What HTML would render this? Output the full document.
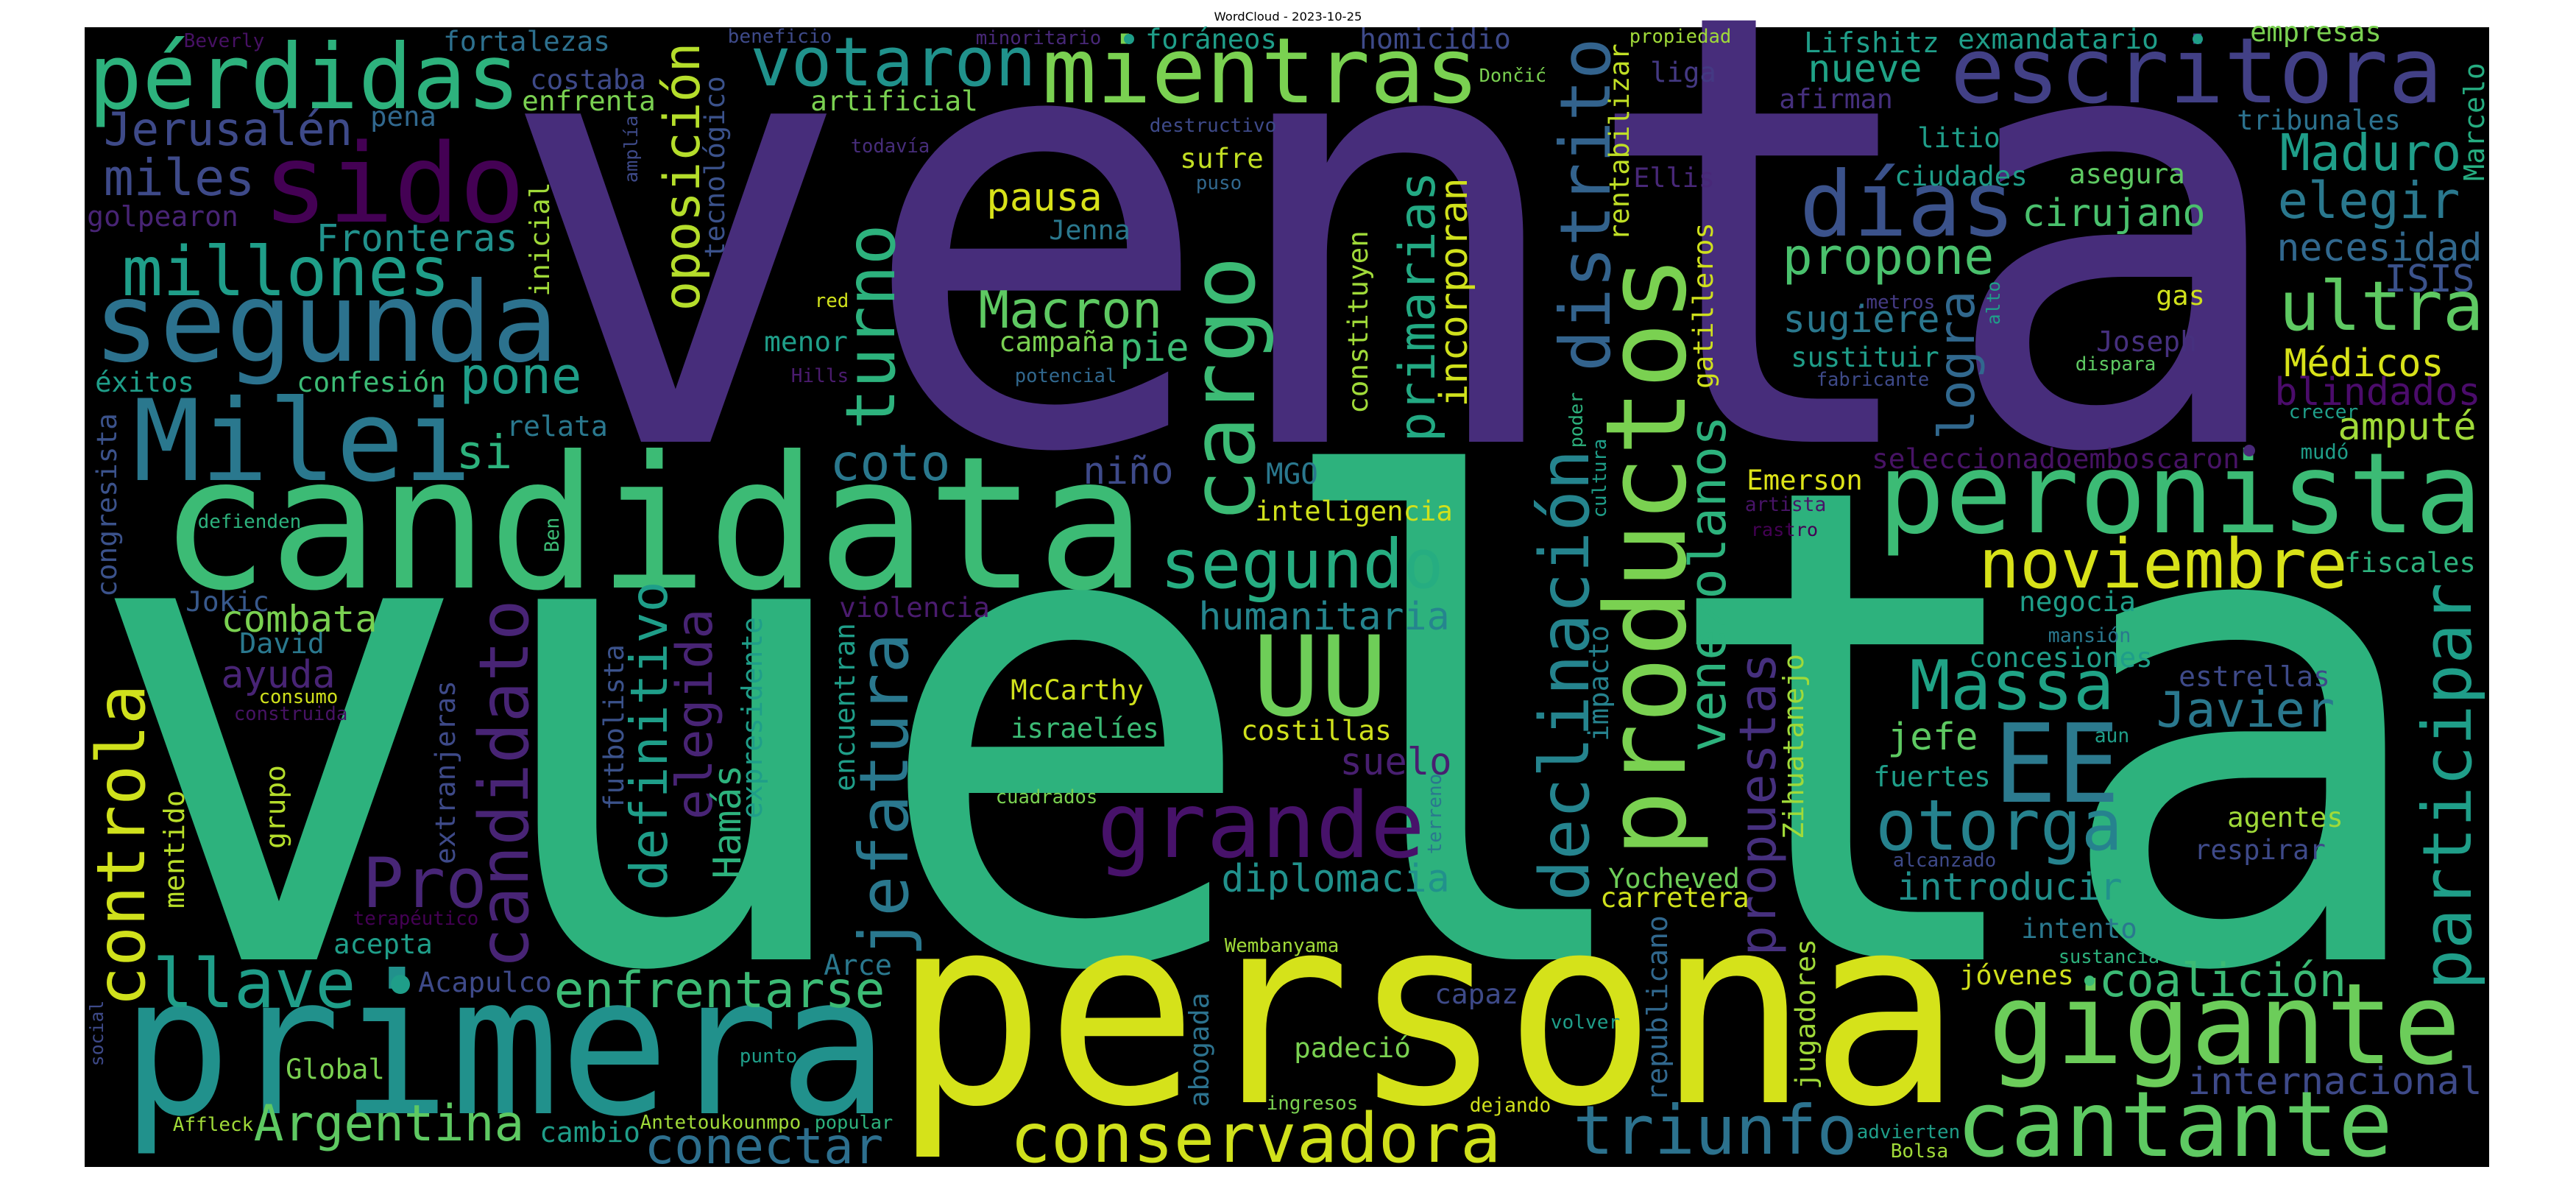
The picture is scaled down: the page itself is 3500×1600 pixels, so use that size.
<!DOCTYPE html>
<html><head><meta charset="utf-8"><title>WordCloud - 2023-10-25</title>
<style>
html,body{margin:0;padding:0;background:#fff;width:3500px;height:1600px;overflow:hidden}
svg{display:block}
.w{font-family:"DejaVu Sans Mono","Liberation Mono",monospace}
</style></head>
<body>
<svg id="chart" width="3500" height="1600" viewBox="0 0 3500 1600" xmlns="http://www.w3.org/2000/svg">
<text x="1750" y="28" text-anchor="middle" font-family="DejaVu Sans, Liberation Sans, sans-serif" font-size="16" textLength="201" lengthAdjust="spacingAndGlyphs" fill="#000">WordCloud - 2023-10-25</text>
<rect x="115" y="37" width="3267" height="1548" fill="#000"/>
<g id="words"></g>
<circle cx="544" cy="1337" r="13" fill="#1f9e89"/>
<circle cx="2839" cy="1332" r="7" fill="#3cbb75"/>
<circle cx="3056" cy="612" r="8" fill="#482878"/>
<circle cx="1534" cy="53" r="7" fill="#1f9e89"/>
<circle cx="2986" cy="53" r="7" fill="#1f9e89"/>
</svg>
<script>
const P0='#440154',P1='#482475',P2='#472d7b',B1='#3e4a89',B2='#31688e',T1='#2a788e',T2='#21918c',G1='#1f9e89',G2='#2db27d',G3='#3cbb75',G4='#5ec962',G5='#7ad151',Y1='#a0da39',Y2='#d0e11c';
// horizontal words: [text, x0, x1, baseline, color, fontSizeOverride]
const horizontalWords = [
['venta',714,3080,600,P2,815],
['vuelta',157,3271,1303,G2,897],
['persona',1231,2648,1497,'#d5e21a',356],
['primera',178,1194,1512,T2,262],
['candidata',229,1545,798,G3,250],
['pérdidas',126,701,147,G2],
['sido',364,706,301,P0],
['segunda',134,751,490,'#2c728e'],
['Milei',188,633,652,T1],
['millones',170,607,401,G1],
['miles',144,343,265,B1],
['Jerusalén',144,476,197,B1],
['Fronteras',432,701,341,T2],
['golpearon',120,322,307,P1],
['Beverly',251,358,64,'#471164'],
['fortalezas',604,827,69,'#2d708e'],
['costaba',722,876,121,B1],
['enfrenta',711,889,150,G5],
['pena',505,591,171,B2],
['éxitos',131,262,532,G1],
['confesión',405,604,532,G3],
['pone',628,787,534,G1],
['si',623,693,636,G2],
['relata',690,824,592,T1],
['defienden',270,408,717,G2],
['Jokic',254,364,830,'#38598c'],
['combata',303,510,858,G5],
['David',327,439,887,T1],
['ayuda',303,453,934,P1],
['consumo',353,458,955,Y2],
['construida',319,471,978,'#471365'],
['Pro',497,657,1232,'#482677'],
['terapéutico',481,649,1256,P0],
['acepta',455,586,1295,G1],
['llave',212,479,1368,G1],
['Acapulco',570,748,1347,B1],
['enfrentarse',756,1199,1368,G3],
['Global',390,521,1465,G5],
['Affleck',236,343,1536,Y1],
['Argentina',348,709,1549,G4],
['cambio',735,868,1551,G1],
['Antetoukounmpo',871,1087,1533,Y1],
['conectar',879,1197,1580,'#2d6f8e'],
['popular',1108,1212,1533,G2],
['beneficio',990,1129,58,B1],
['minoritario',1327,1495,60,'#482878'],
['foráneos',1558,1733,66,G1],
['votaron',1024,1403,116,'#20928c'],
['mientras',1422,2004,139,G5],
['artificial',1103,1327,150,G5],
['destructivo',1563,1733,179,B1],
['todavía',1157,1262,207,'#472d7b'],
['sufre',1605,1715,228,'#c2df23'],
['puso',1626,1686,257,B2],
['pausa',1343,1495,286,'#d8e219'],
['Jenna',1427,1534,325,T1],
['red',1108,1152,417,Y2],
['Macron',1333,1576,445,G4],
['menor',1040,1150,477,G1],
['campaña',1359,1513,477,G5],
['pie',1524,1613,490,G3],
['Hills',1076,1152,519,'#4b1c6f'],
['potencial',1380,1516,519,B2],
['coto',1131,1288,652,T1],
['niño',1474,1592,657,B1],
['MGO',1722,1789,657,T1],
['inteligencia',1707,1972,707,Y2],
['segundo',1581,1957,798,'#26ad81'],
['humanitaria',1631,1967,855,'#25858e'],
['violencia',1142,1343,838,'#4b1c6f'],
['homicidio',1849,2051,66,B1],
['Dončić',2011,2100,111,G5],
['propiedad',2215,2351,58,Y1],
['liga',2244,2330,111,'#443983'],
['Ellis',2221,2328,254,'#482878'],
['Emerson',2375,2529,665,'#dde318'],
['artista',2372,2480,694,'#481467'],
['rastro',2380,2469,728,P0],
['seleccionadoemboscaron',2545,3041,636,'#471365'],
['días',2451,2732,320,'#3b528b'],
['propone',2425,2706,372,'#4ac16d'],
['.metros',2521,2628,419,'#443a83'],
['sugiere',2425,2633,451,T1],
['sustituir',2435,2633,498,G1],
['fabricante',2469,2620,524,B1],
['Lifshitz',2453,2633,71,G1],
['nueve',2459,2609,111,'#20a386'],
['afirman',2419,2570,147,'#46307e'],
['exmandatario',2662,2931,66,G1],
['empresas',3059,3234,56,G5],
['escritora',2656,3313,139,'#424086'],
['tribunales',3041,3260,176,'#2c728e'],
['litio',2607,2716,200,G1],
['Maduro',3101,3341,231,G1],
['ciudades',2576,2753,252,G1],
['asegura',2813,2967,249,G4],
['cirujano',2750,2994,307,'#4ac16d'],
['elegir',3098,3339,296,T1],
['necesidad',3096,3370,354,B2],
['ISIS',3242,3360,396,'#3b528b'],
['ultra',3101,3370,448,G4],
['gas',2931,2994,414,Y2],
['Joseph',2850,2983,477,'#46307e'],
['dispara',2821,2928,503,G4],
['Médicos',3106,3318,511,'#d8e219'],
['blindados',3093,3368,550,'#4b0c6b'],
['crecer',3111,3203,568,G1],
['amputé',3179,3362,597,Y1],
['mudó',3127,3190,623,G1],
['peronista',2559,3365,723,G3],
['noviembre',2693,3185,798,'#d8e219'],
['fiscales',3187,3362,777,G2],
['negocia',2745,2900,830,G1],
['McCarthy',1375,1552,950,Y2],
['israelíes',1375,1573,1002,G3],
['cuadrados',1354,1490,1091,G5],
['Arce',1121,1210,1324,T1],
['punto',1006,1082,1443,G1],
['grande',1497,1930,1164,'#47126a'],
['diplomacia',1662,1967,1211,T2],
['costillas',1688,1889,1005,Y2],
['Wembanyama',1665,1818,1293,Y1],
['conservadora',1377,2035,1578,Y2],
['ingresos',1722,1844,1507,G5],
['UU',1709,1878,971,'#6ece58',150],
['suelo',1823,1970,1052,'#481f70'],
['Yocheved',2187,2362,1206,'#6ece58'],
['carretera',2176,2375,1232,Y2],
['capaz',1951,2061,1363,B1],
['volver',2108,2200,1397,G1],
['padeció',1760,1915,1436,G5],
['dejando',1998,2106,1510,Y2],
['triunfo',2142,2519,1567,'#2c728e'],
['advierten',2524,2662,1546,G1],
['Bolsa',2570,2646,1572,Y1],
['fuertes',2547,2703,1068,G1],
['otorga',2553,2879,1154,'#26828e',95],
['mansión',2784,2894,872,T1],
['concesiones',2677,2923,906,G1],
['Massa',2599,2868,963,'#20a386'],
['estrellas',2962,3164,932,B1],
['Javier',2933,3169,987,T1],
['jefe',2567,2685,1018,G4],
['aun',2847,2892,1008,G1],
['EE',2716,2873,1089,'#2c7a8e',148],
['alcanzado',2573,2711,1177,B1],
['agentes',3028,3182,1123,Y1],
['respirar',2983,3158,1167,B1],
['introducir',2580,2881,1222,T2],
['intento',2748,2902,1274,T1],
['sustancia',2798,2933,1308,G2],
['jóvenes',2664,2816,1337,Y2],
['coalición',2855,3185,1353,G3],
['gigante',2709,3336,1444,'#6ccd5a'],
['internacional',2975,3370,1486,B1],
['cantante',2664,3245,1570,G4]
];
// vertical words (read bottom-to-top): [text, yTop, yBottom, baselineX, color]
const verticalWords = [
['inicial',249,401,746,Y1],
['congresista',563,809,158,'#3b528b'],
['Ben',704,749,759,G3],
['amplía',158,247,866,B1],
['oposición',61,419,950,'#b5de2b'],
['tecnológico',105,349,984,'#3b528b'],
['turno',309,579,1215,G2],
['cargo',354,704,1704,G3],
['distrito',56,500,2187,'#33638d'],
['rentabilizar',61,325,2213,'#c0df25'],
['primarias',236,597,1949,'#23a983'],
['incorporan',244,550,1993,Y2],
['constituyen',315,560,1858,Y1],
['gatilleros',304,526,2327,Y2],
['poder',534,607,2150,G2],
['cultura',597,702,2182,G1],
['declinación',615,1219,2158,'#25848e'],
['productos',354,1157,2289,G5],
['venezolanos',568,1018,2344,G2],
['alto',383,440,2717,G1],
['logra',398,594,2682,B2],
['Marcelo',87,244,3375,'#26ad81'],
['controla',934,1363,196,Y2],
['candidato',819,1311,717,P1],
['definitivo',793,1206,906,G1],
['futbolista',877,1099,847,'#3b528b'],
['extranjeras',926,1172,618,B1],
['grupo',1041,1151,387,'#b5de2b'],
['mentido',1075,1232,250,'#b8de29'],
['social',1360,1447,140,B1],
['elegida',830,1110,967,P1],
['Hamás',1041,1191,1006,G2],
['expresidente',840,1110,1035,G1],
['encuentran',848,1073,1161,G1],
['jefatura',864,1295,1233,T1],
['abogada',1350,1502,1642,'#2c728e'],
['terreno',1052,1159,1958,T1],
['impacto',851,1005,2185,'#26828e'],
['propuestas',890,1295,2412,'#46307e'],
['Zihuatanejo',890,1138,2450,Y1],
['republicano',1245,1494,2265,B2],
['jugadores',1277,1478,2466,Y1],
['participar',796,1340,3357,G1]
];
const NS='http://www.w3.org/2000/svg';
const layer=document.getElementById('words');
function slug(t){return t.toLowerCase().normalize('NFD').replace(/[\u0300-\u036f]/g,'').replace(/[^a-z0-9]+/g,'-').replace(/^-|-$/g,'');}
function fsFor(len,n){return len/(0.602*n-0.1);}
horizontalWords.forEach(function(w){
  const n=w[0].length, len=w[2]-w[1];
  const fs=w[5]||fsFor(len,n);
  const t=document.createElementNS(NS,'text');
  t.setAttribute('class','w');
  t.setAttribute('x',(w[1]-0.05*fs).toFixed(1));
  t.setAttribute('y',w[3]);
  t.setAttribute('font-size',fs.toFixed(1));
  t.setAttribute('textLength',(len+0.1*fs).toFixed(1));
  t.setAttribute('lengthAdjust','spacingAndGlyphs');
  t.setAttribute('fill',w[4]);
  
  
  t.textContent=w[0];
  layer.appendChild(t);
});
verticalWords.forEach(function(w){
  const n=w[0].length, len=w[2]-w[1];
  const fs=fsFor(len,n);
  const t=document.createElementNS(NS,'text');
  t.setAttribute('class','w');
  t.setAttribute('x',0);
  t.setAttribute('y',0);
  t.setAttribute('transform','translate('+w[3]+','+(w[2]+0.05*fs).toFixed(1)+') rotate(-90)');
  t.setAttribute('font-size',fs.toFixed(1));
  t.setAttribute('textLength',(len+0.1*fs).toFixed(1));
  t.setAttribute('lengthAdjust','spacingAndGlyphs');
  t.setAttribute('fill',w[4]);
  
  
  t.textContent=w[0];
  layer.appendChild(t);
});
</script>
</body></html>
